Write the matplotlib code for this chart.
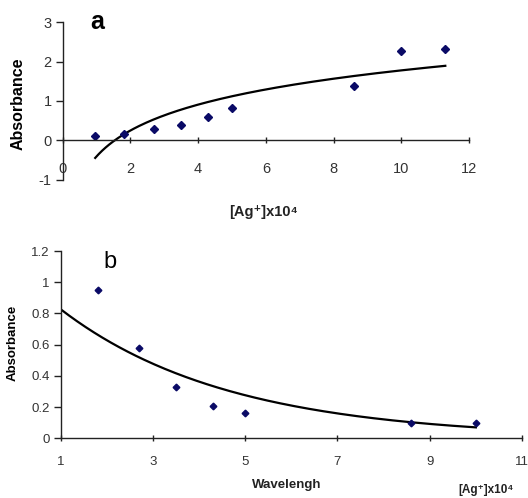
import numpy as np
import matplotlib
matplotlib.use("Agg")
import matplotlib.pyplot as plt

plt.rcParams['font.family'] = ['Liberation Sans', 'DejaVu Sans']
plt.rcParams['axes.unicode_minus'] = False

# panel a: absorbance vs [Ag+]
ag_a = [0.96, 1.8, 2.7, 3.5, 4.3, 5.0, 8.6, 10.0, 11.3]
abs_a = [0.12, 0.17, 0.28, 0.39, 0.58, 0.82, 1.39, 2.28, 2.32]
# log trendline y = k*ln(x) + c
trend_a = (0.95, -0.41)

# panel b
ag_b = [1.8, 2.7, 3.5, 4.3, 5.0, 8.6, 10.0]
abs_b = [0.95, 0.58, 0.33, 0.21, 0.165, 0.10, 0.10]
# exponential trendline y = A*exp(-k*x), drawn back to x=1
trend_b = (1.088, 0.2743)

W, H = 528, 498
fig = plt.figure(figsize=(W/100, H/100), dpi=100)

def fx(px):
    return px / W

def fy(py):
    return 1 - py / H

navy = '#0a0a66'
txt = '#333333'

def style(ax, fs, pad):
    for s in ['top', 'right']:
        ax.spines[s].set_visible(False)
    for s in ['left', 'bottom']:
        ax.spines[s].set_color('#222222')
        ax.spines[s].set_linewidth(1.0)
    ax.tick_params(axis='x', direction='inout', length=5, width=1, colors='#222222',
                   labelcolor=txt, labelsize=fs, pad=pad)
    ax.tick_params(axis='y', direction='out', length=5, width=1, colors='#222222',
                   labelcolor=txt, labelsize=fs, pad=3)
    ax.patch.set_alpha(0)

# ---- top ----
ax1 = fig.add_axes([fx(62.7), fy(179.6), fx(469 - 62.7), (179.6 - 22.3) / H])
ax1.set_xlim(0, 12)
ax1.set_ylim(-1, 3)
ax1.spines['bottom'].set_position(('data', 0))
ax1.set_xticks(range(0, 13, 2))
ax1.set_yticks(range(-1, 4))
style(ax1, 10.5, 13)
xa = np.linspace(min(ag_a), max(ag_a), 200)
ax1.plot(xa, trend_a[0] * np.log(xa) + trend_a[1], color='black', lw=1.6)
ax1.plot(ag_a, abs_a, 'D', color=navy, ms=4.4, mec=navy, clip_on=False)

fig.text(fx(97), fy(22), 'a', fontsize=18, fontweight='bold', ha='center', va='center')
fig.text(fx(18), fy(104), 'Absorbance', fontsize=11.5, fontweight='bold',
         rotation=90, ha='center', va='center')
fig.text(fx(263), fy(212), '[Ag\u207a]x10\u2074', fontsize=10.5, fontweight='bold',
         ha='center', va='center', color='#222222')

# ---- bottom ----
ax2 = fig.add_axes([fx(60.7), fy(438.3), fx(522 - 60.7), (438.3 - 251.1) / H])
ax2.set_xlim(1, 11)
ax2.set_ylim(0, 1.2)
ax2.set_xticks(range(1, 12, 2))
ax2.set_yticks([0, 0.2, 0.4, 0.6, 0.8, 1.0, 1.2])
ax2.set_yticklabels(['0', '0.2', '0.4', '0.6', '0.8', '1', '1.2'])
style(ax2, 9.5, 10)
xb = np.linspace(1, max(ag_b), 200)
ax2.plot(xb, trend_b[0] * np.exp(-trend_b[1] * xb), color='black', lw=1.6)
ax2.plot(ag_b, abs_b, 'D', color=navy, ms=3.4, mec=navy, clip_on=False)

fig.text(fx(110), fy(262), 'b', fontsize=17, ha='center', va='center')
fig.text(fx(13), fy(343), 'Absorbance', fontsize=9.5, fontweight='bold',
         rotation=90, ha='center', va='center')
fig.text(fx(287), fy(485), 'Wavelengh', fontsize=9.5, fontweight='bold',
         ha='center', va='center', color='#222222')
fig.text(fx(486), fy(490), '[Ag\u207a]x10\u2074', fontsize=8.5, fontweight='bold',
         ha='center', va='center', color='#222222')

fig.savefig('out.png', dpi=100)
